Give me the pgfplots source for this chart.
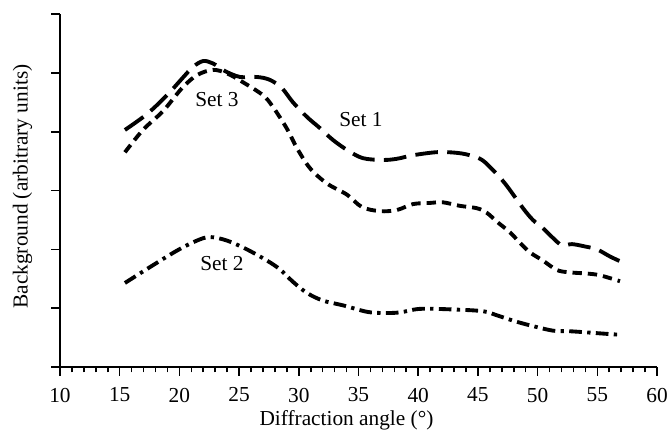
\documentclass[border=0pt]{standalone}
\usepackage{fontspec}
\setmainfont{Liberation Serif}
\usepackage{pgfplots}
\pgfplotsset{compat=1.18}
\usetikzlibrary{calc}

\begin{document}
\begin{tikzpicture}
\begin{axis}[
    name=a,
    scale only axis,
    width=448pt, height=265pt,
    xmin=10, xmax=60,
    ymin=0, ymax=6,
    axis lines=left,
    axis line style={-, line width=1.4pt},
    xtick={10,15,...,60},
    minor x tick num=4,
    ytick={0,1,...,6},
    yticklabels={},
    tick align=outside,
    major tick length=6.5pt,
    minor tick length=4pt,
    every tick/.style={line width=1.2pt, black},
    tick label style={font=\fontsize{16}{19}\selectfont},
    x tick label style={yshift=-5.5pt},
    /pgf/number format/assume math mode=true,
    xlabel={Diffraction angle (°)},
    ylabel={Background (arbitrary units)},
    every axis x label/.style={at={(rel axis cs:0.5,0)}, anchor=center, xshift=-9pt, yshift=-40pt, font=\fontsize{16}{19}\selectfont},
    every axis y label/.style={at={(rel axis cs:0,0.5)}, anchor=center, rotate=90, xshift=3pt, yshift=28pt, font=\fontsize{16}{19}\selectfont},
    every axis plot/.append style={black, line width=2.9pt, smooth, tension=0.55},
    clip=false,
]
% Set 1
\addplot[dash pattern=on 17pt off 7pt] coordinates {
(15.44,4.03) (17.29,4.30) (18.96,4.62) (20.30,4.92) (21.14,5.10) (21.98,5.20)
(22.81,5.16) (23.82,5.03) (25.08,4.93) (26.50,4.93) (27.59,4.88) (28.59,4.74)
(29.51,4.50) (30.69,4.25) (31.78,4.06) (32.86,3.86) (34.12,3.68) (35.38,3.55)
(37.05,3.52) (38.22,3.54) (39.56,3.60) (41.41,3.65) (42.66,3.65) (43.92,3.62)
(45.18,3.54) (46.01,3.40) (47.27,3.12) (48.78,2.70) (49.61,2.50)
(50.45,2.36) (51.21,2.21) (52.04,2.07) (52.88,2.09) (53.97,2.05) (54.98,2.00)
(56.06,1.88) (56.90,1.80)
};
% Set 3
\addplot[dash pattern=on 7pt off 4.5pt] coordinates {
(15.44,3.65) (16.95,4.03) (18.63,4.35) (20.22,4.74) (21.47,4.96) (22.81,5.05)
(23.99,4.99) (25.33,4.84) (27.00,4.62) (27.84,4.42) (29.01,4.05) (29.85,3.72)
(30.94,3.38) (32.36,3.12) (34.04,2.93) (35.29,2.72) (36.80,2.65) (38.22,2.67)
(39.56,2.77) (40.99,2.79) (42.08,2.80) (43.50,2.74) (44.92,2.70) (45.76,2.62)
(46.60,2.47) (47.69,2.29) (48.53,2.11) (49.36,1.95) (50.45,1.81) (51.62,1.65)
(52.71,1.61) (54.14,1.59) (55.23,1.56) (56.90,1.46)
};
% Set 2
\addplot[dash pattern=on 9.5pt off 4pt on 2.5pt off 4pt] coordinates {
(15.44,1.43) (17.54,1.70) (19.80,1.98) (21.47,2.15) (22.56,2.21) (23.99,2.15)
(25.66,2.00) (27.34,1.81) (28.43,1.66) (29.51,1.45) (30.69,1.26) (32.03,1.13)
(33.70,1.05) (35.71,0.94) (37.05,0.92) (38.48,0.93) (40.15,0.99)
(42.91,0.98) (45.43,0.95) (46.60,0.88) (47.94,0.79) (49.36,0.71)
(51.29,0.62) (52.71,0.61) (54.14,0.59) (55.48,0.57) (56.90,0.55)
};
\node[font=\fontsize{16}{19}\selectfont] at (axis cs:23.15,4.55) {Set 3};
\node[font=\fontsize{16}{19}\selectfont] at (axis cs:35.2,4.21) {Set 1};
\node[font=\fontsize{16}{19}\selectfont] at (axis cs:23.57,1.76) {Set 2};
\end{axis}
\pgfresetboundingbox
\useasboundingbox ($(a.south west)+(-45pt,-47.25pt)$) rectangle ($(a.north east)+(10.5pt,10.5pt)$);
\end{tikzpicture}
\end{document}
